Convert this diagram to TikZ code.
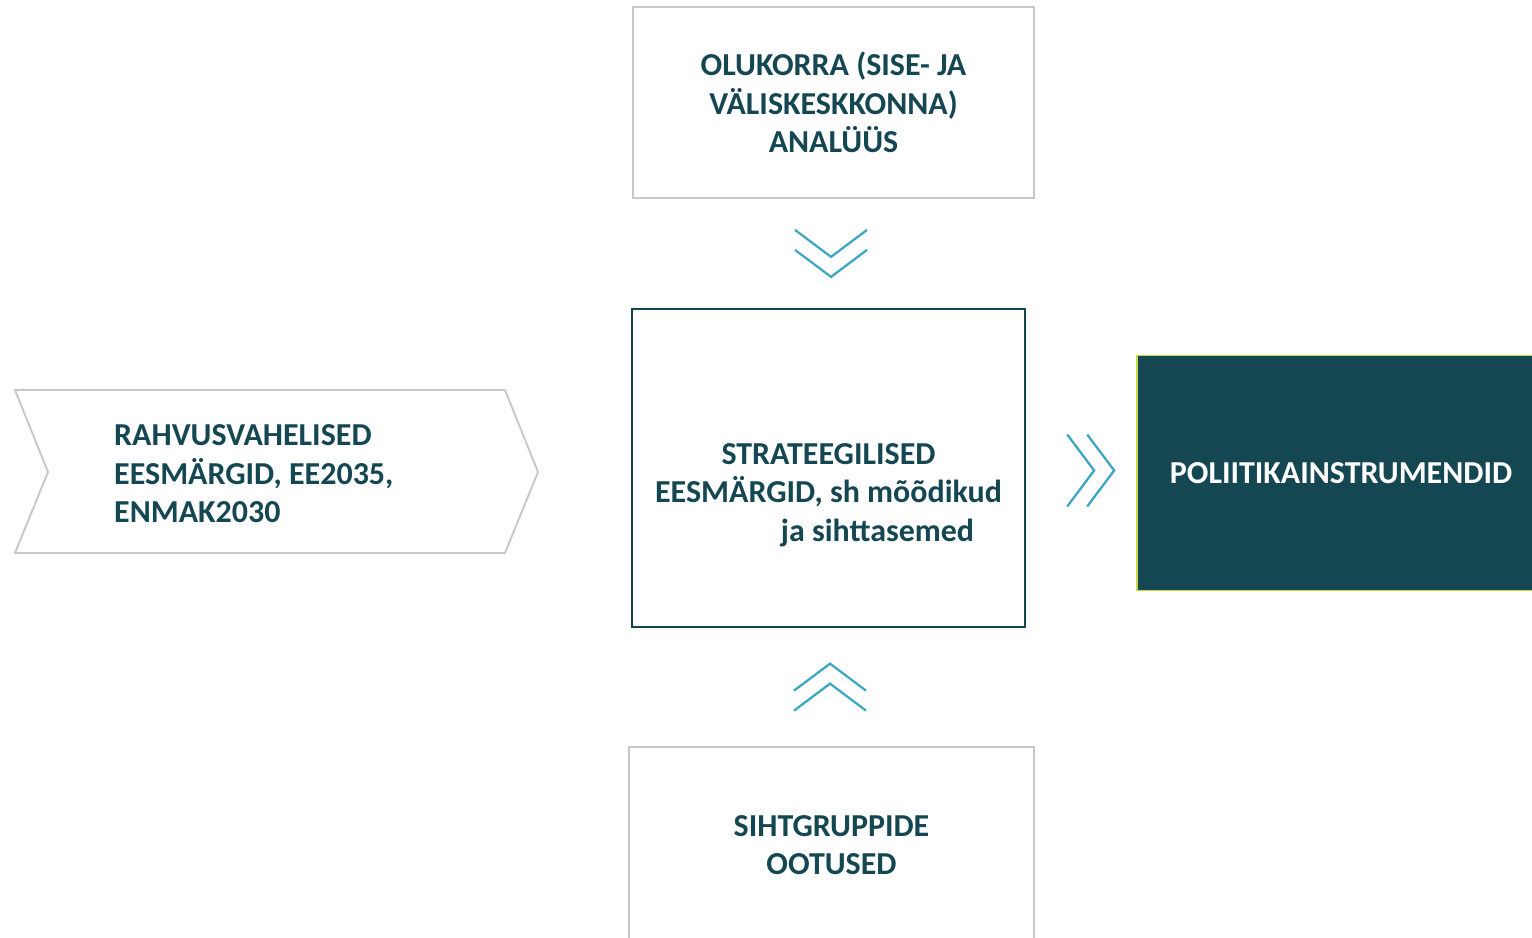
\documentclass[tikz,border=0pt]{standalone}
\usepackage{fontspec}
\setmainfont{Carlito}
\usetikzlibrary{calc}
\definecolor{darkteal}{HTML}{154752}
\definecolor{boxgray}{HTML}{C8C8C8}
\definecolor{chev}{HTML}{3DA6C2}
\definecolor{limeline}{HTML}{C8DA44}
\tikzstyle{txt} = [text=darkteal, font=\fontsize{18.2}{21.9}\selectfont\bfseries, align=center]
\tikzstyle{graybox} = [txt, rectangle, draw=boxgray, line width=1.1pt]
\tikzstyle{chevron} = [draw=chev, line width=1.3pt]

\begin{document}
\begin{tikzpicture}[x=0.02cm, y=-0.02cm]
        % \draw[help lines] (0,0) grid (1532,937);
        \clip (0,0) rectangle (1532,937);
        \useasboundingbox (0,0) rectangle (1532,937);

        \node (O) [graybox, minimum width=8.02cm, minimum height=3.82cm] at (833.5,102.5) {OLUKORRA (SISE- JA\\ VÄLISKESKKONNA)\\ ANALÜÜS};
        \node (S) [rectangle, draw=darkteal, line width=1.4pt, minimum width=7.86cm, minimum height=6.36cm] at (828.5,468) {};
        \node (St) [txt] at (828.5,495) {STRATEEGILISED\\ EESMÄRGID, sh mõõdikud\\ \hspace*{1.96cm}ja sihttasemed};
        \node (P) [txt, rectangle, fill=darkteal, draw=limeline, line width=0.9pt, text=white, minimum width=8.16cm, minimum height=4.7cm] at (1341,473) {POLIITIKAINSTRUMENDID};
        \node (G) [graybox, minimum width=8.1cm, minimum height=3.92cm] at (831.5,845) {SIHTGRUPPIDE\\ OOTUSED};

        % left arrow shape
        \draw [boxgray, line width=1.1pt] (15,390) -- (505,390) -- (538,472) -- (505,553) -- (15,553) -- (48,472) -- cycle;
        \node (R) [txt, align=left, anchor=west] at (108,474) {RAHVUSVAHELISED\\ EESMÄRGID, EE2035,\\ ENMAK2030};

        \coordinate (OS) at ($(O.south)!0.5!(S.north)$);
        \coordinate (GS) at ($(G.north)!0.5!(S.south)$);
        \coordinate (SP) at ([xshift=0.18cm]$(S.east)!0.5!(P.west)$);

        \draw [chevron] (OS) ++(-36,-23.5) -- ++(36,27) -- ++(36,-27);
        \draw [chevron] (OS) ++(-36,-3.5) -- ++(36,27) -- ++(36,-27);
        \draw [chevron] (GS) ++(-36,23.5) -- ++(36,-27) -- ++(36,27);
        \draw [chevron] (GS) ++(-36,3.5) -- ++(36,-27) -- ++(36,27);
        \draw [chevron] (SP) ++(-23,-36) -- ++(27,36) -- ++(-27,36);
        \draw [chevron] (SP) ++(-3,-36) -- ++(27,36) -- ++(-27,36);

    \end{tikzpicture}
\end{document}
